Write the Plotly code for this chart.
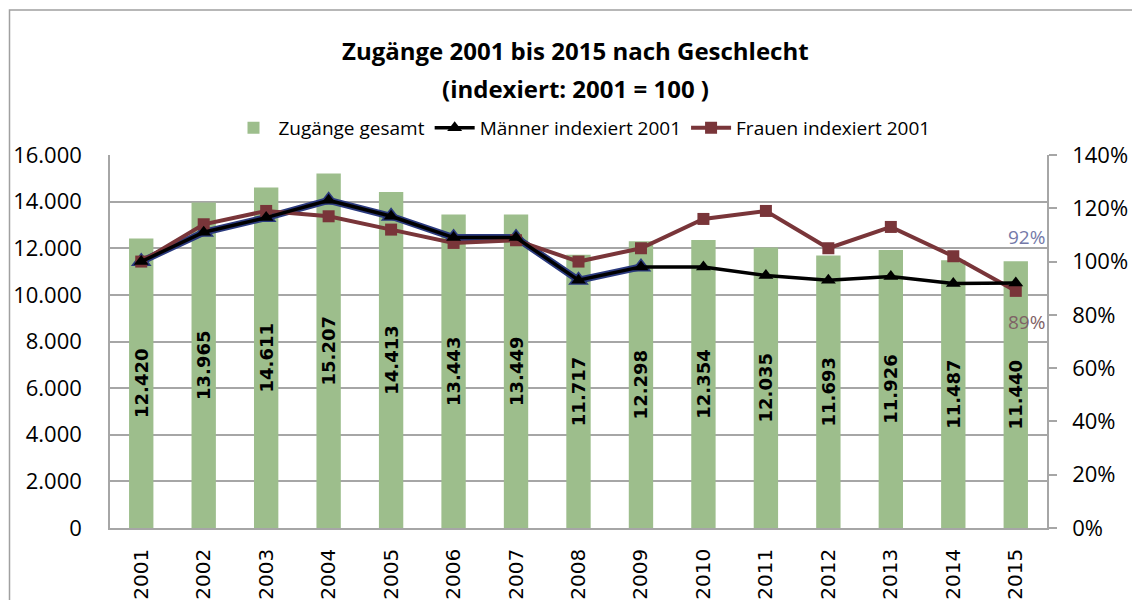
import plotly.graph_objects as go

years = ["2001", "2002", "2003", "2004", "2005", "2006", "2007", "2008",
         "2009", "2010", "2011", "2012", "2013", "2014", "2015"]
zugaenge_gesamt = [12420, 13965, 14611, 15207, 14413, 13443, 13449, 11717,
                   12298, 12354, 12035, 11693, 11926, 11487, 11440]
maenner_index = [100, 111, 116.5, 123, 117, 109, 109, 93, 98, 98, 94.8, 93, 94.4, 91.8, 92]
frauen_index = [100, 114, 119, 117, 112, 107, 108, 100, 105, 116, 119, 105, 113, 102, 89]
n_navy = 9  # early points where the original navy line shows beneath the black one

GREEN = "#9DBE8C"
MAROON = "#793539"
NAVY = "#2B3A7E"
GRID = "#A6A6A6"
FONT = "Open Sans"

fig = go.Figure()

fig.add_trace(go.Bar(
    x=years, y=zugaenge_gesamt, name="Zugänge gesamt",
    marker=dict(color=GREEN, line=dict(width=0)),
    texttemplate="<b>%{y:,d}</b>", textposition="inside",
    insidetextanchor="middle", textangle=-90, constraintext="none",
    textfont=dict(family="DejaVu Sans", size=18, color="black"),
    yaxis="y", legendrank=1,
))

# navy underlay (visible in the early years of the original)
fig.add_trace(go.Scatter(
    x=years[:n_navy], y=maenner_index[:n_navy], mode="lines+markers",
    line=dict(color=NAVY, width=7), showlegend=False, hoverinfo="skip",
    marker=dict(symbol="triangle-up", size=18, color=NAVY),
    yaxis="y2", cliponaxis=False,
))

fig.add_trace(go.Scatter(
    x=years, y=frauen_index, mode="lines+markers", name="Frauen indexiert 2001",
    line=dict(color=MAROON, width=4),
    marker=dict(symbol="square", size=12, color=MAROON),
    yaxis="y2", cliponaxis=False, legendrank=3,
))

fig.add_trace(go.Scatter(
    x=years, y=maenner_index, mode="lines+markers", name="Männer indexiert 2001",
    line=dict(color="black", width=3.5),
    marker=dict(symbol="triangle-up", size=13, color="black"),
    yaxis="y2", cliponaxis=False, legendrank=2,
))

# The page body has an 8px margin, so figure coords = page coords - 8.
OFF = 8
W, H = 1140, 600
PL, PR, PT, PB = 110, 1047, 155, 528          # plot area in page pixels
L, T = PL - OFF, PT - OFF
R, B = W - (PR - OFF), H - (PB - OFF)
pw, ph = PR - PL, PB - PT

def px_x(x):
    return (x - PL) / pw

def px_y(y):
    return (PB - y) / ph

last = len(years) - 1

annotations = [
    dict(text="<b>Zugänge 2001 bis 2015 nach Geschlecht</b>", x=px_x(575), y=px_y(50),
         xref="paper", yref="paper", showarrow=False, xanchor="center", yanchor="middle",
         font=dict(family=FONT, size=24, color="black")),
    dict(text="<b>(indexiert: 2001 = 100 )</b>", x=px_x(575), y=px_y(88),
         xref="paper", yref="paper", showarrow=False, xanchor="center", yanchor="middle",
         font=dict(family=FONT, size=24, color="black")),
    dict(text=f"{maenner_index[-1]:.0f}%", x=last, y=maenner_index[-1],
         xref="x", yref="y2", showarrow=False, xshift=11, yshift=46,
         font=dict(family=FONT, size=19, color="#7479A8")),
    dict(text=f"{frauen_index[-1]:.0f}%", x=last, y=frauen_index[-1],
         xref="x", yref="y2", showarrow=False, xshift=11, yshift=-31,
         font=dict(family=FONT, size=19, color="#7F6266")),
]

shapes = [
    dict(type="rect", xref="paper", yref="paper",
         x0=px_x(9.5), x1=px_x(1160), y0=px_y(620), y1=px_y(10),
         line=dict(color="#A0A0A0", width=1.5), fillcolor="rgba(0,0,0,0)", layer="below"),
]

fig.update_layout(
    width=W, height=H,
    margin=dict(l=L, r=R, t=T, b=B, autoexpand=False),
    paper_bgcolor="white", plot_bgcolor="white",
    separators=",.",
    font=dict(family=FONT, color="black"),
    bargap=0.61,
    showlegend=True,
    legend=dict(orientation="h", x=px_x(582), y=px_y(128), xanchor="center", yanchor="middle",
                font=dict(family=FONT, size=19, color="black"),
                traceorder="normal", bgcolor="rgba(0,0,0,0)", itemwidth=40,
                tracegroupgap=0),
    xaxis=dict(type="category", range=[-0.5, last + 0.5], tickangle=-90, showgrid=False,
               showline=True, linecolor=GRID, linewidth=1.5, ticks="", ticklabelstandoff=11,
               automargin=False,
               tickfont=dict(family="DejaVu Sans", size=20, color="black")),
    yaxis=dict(range=[0, 16000], dtick=2000, tickformat=",d", showgrid=True,
               gridcolor=GRID, gridwidth=1.5, showline=True, linecolor=GRID,
               linewidth=1.5, zeroline=False, ticks="", ticklabelstandoff=22,
               automargin=False,
               tickfont=dict(family=FONT, size=22, color="black")),
    yaxis2=dict(range=[0, 140], dtick=20, ticksuffix="%", overlaying="y", side="right",
                showgrid=False, showline=True, linecolor=GRID, linewidth=1.5,
                zeroline=False, ticks="outside", ticklen=8, tickcolor=GRID, tickwidth=1.5,
                ticklabelstandoff=11, automargin=False,
                tickfont=dict(family=FONT, size=22, color="black")),
    annotations=annotations,
    shapes=shapes,
)

fig.write_html("out.html")
